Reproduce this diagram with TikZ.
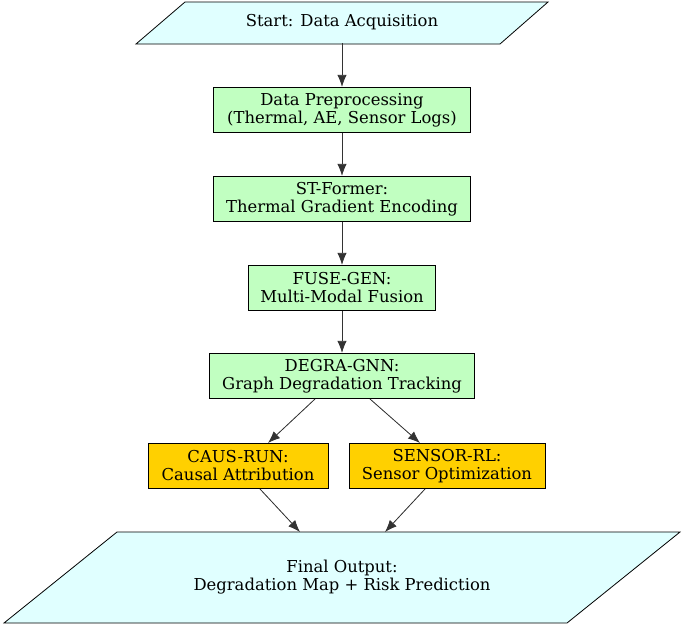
\documentclass[tikz,border=0pt]{standalone}
\usepackage{fontspec}
\setmainfont{DejaVu Serif}
\usetikzlibrary{arrows.meta}
\definecolor{cy}{HTML}{E0FFFF}
\definecolor{gr}{HTML}{C1FFC1}
\definecolor{go}{HTML}{FFD000}
\begin{document}
\begin{tikzpicture}[x=0.75pt,y=-0.75pt,
  every node/.style={font=\fontsize{12.3}{13.5}\selectfont,align=center,inner sep=0pt},
  box/.style={draw=black,line width=0.6pt,minimum height=34pt},
  pg/.style={fill=cy,draw=black,line width=0.6pt},
  arr/.style={-{Latex[length=9pt,width=7pt]},line width=0.6pt,draw=black!80,fill=black}]
\useasboundingbox (0,0) rectangle (685,629);
\path[pg] (185,2) -- (548,2) -- (500,44) -- (136,44) -- cycle;
\node[minimum height=31.5pt,minimum width=200pt] (start) at (342,22) {Start: Data Acquisition};
\node[box,fill=gr,minimum width=193pt] (pre) at (342,110) {Data Preprocessing\\(Thermal, AE, Sensor Logs)};
\node[box,fill=gr,minimum width=193pt] (st) at (342,199) {ST-Former:\\Thermal Gradient Encoding};
\node[box,fill=gr,minimum width=140pt] (fuse) at (342,288) {FUSE-GEN:\\Multi-Modal Fusion};
\node[box,fill=gr,minimum width=199pt] (degra) at (342,376) {DEGRA-GNN:\\Graph Degradation Tracking};
\node[box,fill=go,minimum width=135pt] (caus) at (238,466) {CAUS-RUN:\\Causal Attribution};
\node[box,fill=go,minimum width=147pt] (sens) at (447,466) {SENSOR-RL:\\Sensor Optimization};
\path[pg] (117,532) -- (680,532) -- (567,623) -- (4,623) -- cycle;
\node[minimum height=68pt,minimum width=300pt] (final) at (342,577) {Final Output:\\Degradation Map + Risk Prediction};
\draw[arr] (start) -- (pre);
\draw[arr] (pre) -- (st);
\draw[arr] (st) -- (fuse);
\draw[arr] (fuse) -- (degra);
\draw[arr] (315,399) coordinate (d1) -- (268,443) coordinate (c1);
\draw[arr] (370,399) coordinate (d2) -- (420,443) coordinate (s1);
\draw[arr] (260,489) coordinate (c2) -- (300,532) coordinate (f1);
\draw[arr] (425,489) coordinate (s2) -- (385,532) coordinate (f2);
\end{tikzpicture}
\end{document}
